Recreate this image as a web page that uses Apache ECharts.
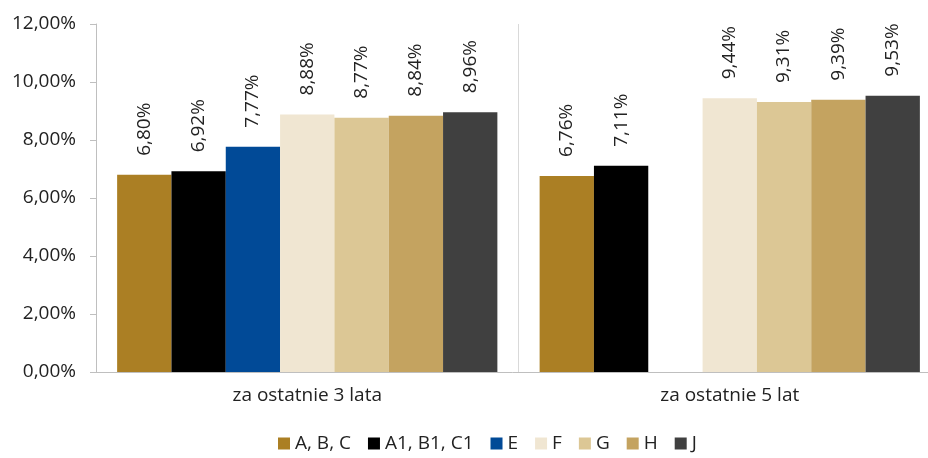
<!DOCTYPE html>
<html><head><meta charset="utf-8">
<script src="https://cdn.jsdelivr.net/npm/echarts@6/dist/echarts.min.js"></script>
<style>html,body{margin:0;padding:0;background:#fff}#c{width:928px;height:458px}</style>
</head><body><div id="c"></div>
<script>
const categories = ['za ostatnie 3 lata', 'za ostatnie 5 lat'];
const seriesNames = ['A, B, C', 'A1, B1, C1', 'E', 'F', 'G', 'H', 'J'];
const sABC = [6.80, 6.76];
const sA1B1C1 = [6.92, 7.11];
const sE = [7.77, null];
const sF = [8.88, 9.44];
const sG = [8.77, 9.31];
const sH = [8.84, 9.39];
const sJ = [8.96, 9.53];
const yTicks = [0, 2, 4, 6, 8, 10, 12];

const values = [sABC, sA1B1C1, sE, sF, sG, sH, sJ];
const colors = ['#AB7F24', '#000000', '#014A97', '#F0E6D2', '#DCC795', '#C4A360', '#404040'];
const fmt = v => v.toFixed(2).replace('.', ',') + '%';
const font = '"Open Sans", sans-serif';

const chart = echarts.init(document.getElementById('c'), null, {renderer: 'canvas'});
chart.setOption({
  animation: false,
  backgroundColor: '#fff',
  color: colors,
  grid: {left: 96, width: 845, top: 24, height: 348, containLabel: false, outerBoundsMode: 'none'},
  legend: {
    bottom: 0, left: 273,
    icon: 'rect', itemWidth: 12, itemHeight: 12, itemGap: 17,
    textStyle: {fontFamily: font, fontSize: 19, color: '#222'},
    data: seriesNames
  },
  xAxis: {
    type: 'category', data: categories,
    axisLine: {lineStyle: {color: '#bfbfbf', width: 1}},
    axisTick: {show: false},
    splitLine: {show: true, lineStyle: {color: '#d9d9d9', width: 1}},
    axisLabel: {fontFamily: font, fontSize: 19, color: '#222', margin: 14}
  },
  yAxis: {
    type: 'value', min: yTicks[0], max: yTicks[yTicks.length - 1], interval: 2,
    axisLine: {show: true, lineStyle: {color: '#bfbfbf', width: 1}},
    axisTick: {show: true, length: 6, lineStyle: {color: '#bfbfbf'}},
    splitLine: {show: false},
    axisLabel: {fontFamily: font, fontSize: 19, color: '#222', margin: 20, formatter: fmt}
  },
  series: seriesNames.map((n, i) => ({
    name: n, type: 'bar', data: values[i],
    barGap: '0%', barCategoryGap: '10%',
    itemStyle: {color: colors[i]},
    label: {
      show: true, position: 'top', rotate: 90, align: 'left', verticalAlign: 'middle',
      distance: 19, fontFamily: font, fontSize: 19, color: '#222',
      formatter: p => p.value == null ? '' : fmt(p.value)
    }
  }))
});
</script></body></html>
